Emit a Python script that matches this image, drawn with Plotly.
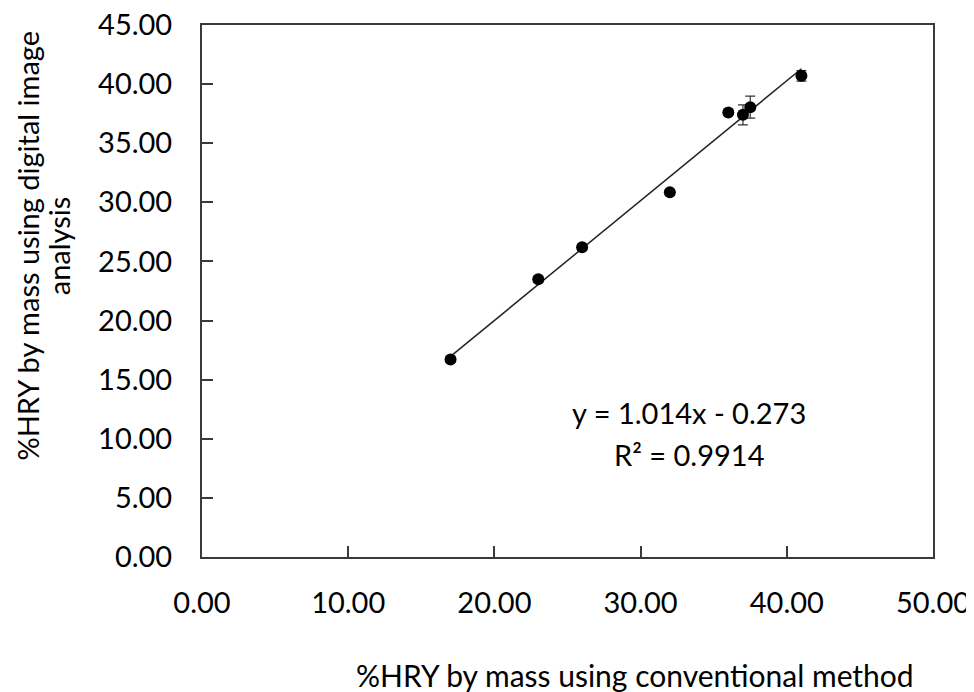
import plotly.graph_objects as go

# Data
conventional = [17.0, 23.0, 26.0, 32.0, 36.0, 37.0, 37.5, 41.0]
digital = [16.7, 23.5, 26.2, 30.85, 37.6, 37.4, 38.05, 40.7]
digital_err = [0.2, 0.25, 0.25, 0.2, 0.2, 0.85, 0.93, 0.45]

slope = 1.014
intercept = -0.273
eq_text = "y = 1.014x - 0.273"
r2_text = "R\u00b2 = 0.9914"

x_title = "%HRY by mass using conventional method"
y_title_lines = ["%HRY by mass using digital image", "analysis"]

x_ticks = [0, 10, 20, 30, 40, 50]
y_ticks = [0, 5, 10, 15, 20, 25, 30, 35, 40, 45]

FONT = "Lato"
AX_COLOR = "#3a3a3a"

x_line = [min(conventional), max(conventional)]
y_line = [slope * v + intercept for v in x_line]

fig = go.Figure()
fig.add_trace(go.Scatter(
    x=x_line, y=y_line, mode="lines",
    line=dict(color="#222222", width=1.5),
    showlegend=False, hoverinfo="skip",
))
fig.add_trace(go.Scatter(
    x=conventional, y=digital, mode="markers",
    marker=dict(color="black", size=12),
    error_y=dict(type="data", array=digital_err, visible=True,
                 color="#333333", thickness=1.2, width=5),
    showlegend=False,
))

fig.add_annotation(x=33.3, y=12.2, xref="x", yref="y", text=eq_text,
                   showarrow=False, font=dict(family=FONT, size=29, color="black"))
fig.add_annotation(x=33.3, y=8.7, xref="x", yref="y", text=r2_text,
                   showarrow=False, font=dict(family=FONT, size=29, color="black"))

fig.add_annotation(x=0.592, y=-0.222, xref="paper", yref="paper",
                   text=x_title,
                   showarrow=False, font=dict(family=FONT, size=30, color="black"),
                   xanchor="center", yanchor="middle")
for xp, line in zip([-0.2390, -0.197], y_title_lines):
    fig.add_annotation(x=xp, y=0.586, xref="paper", yref="paper",
                       text=line, textangle=-90, showarrow=False,
                       font=dict(family=FONT, size=29, color="black"),
                       xanchor="center", yanchor="middle")

axis_common = dict(
    showline=True, linecolor=AX_COLOR, linewidth=2, mirror=True,
    ticks="inside", ticklen=11, tickcolor=AX_COLOR, tickwidth=1.5,
    showgrid=False, zeroline=False,
    tickfont=dict(family=FONT, size=29, color="black"),
    tickformat=".2f", ticklabeloverflow="allow", automargin=False,
)

fig.update_xaxes(range=[0, 50], tickvals=x_ticks, ticklabelstandoff=19, **axis_common)
fig.update_yaxes(range=[0, 45], tickvals=y_ticks, ticklabelstandoff=22, **axis_common)

# page body has an 8px margin; compensate so the plot area lands where the reference has it
fig.update_layout(
    width=974, height=692,
    margin=dict(l=194, r=49, t=17, b=143, autoexpand=False),
    plot_bgcolor="white", paper_bgcolor="white",
    font=dict(family=FONT, color="black"),
)

fig.write_html("out.html")
